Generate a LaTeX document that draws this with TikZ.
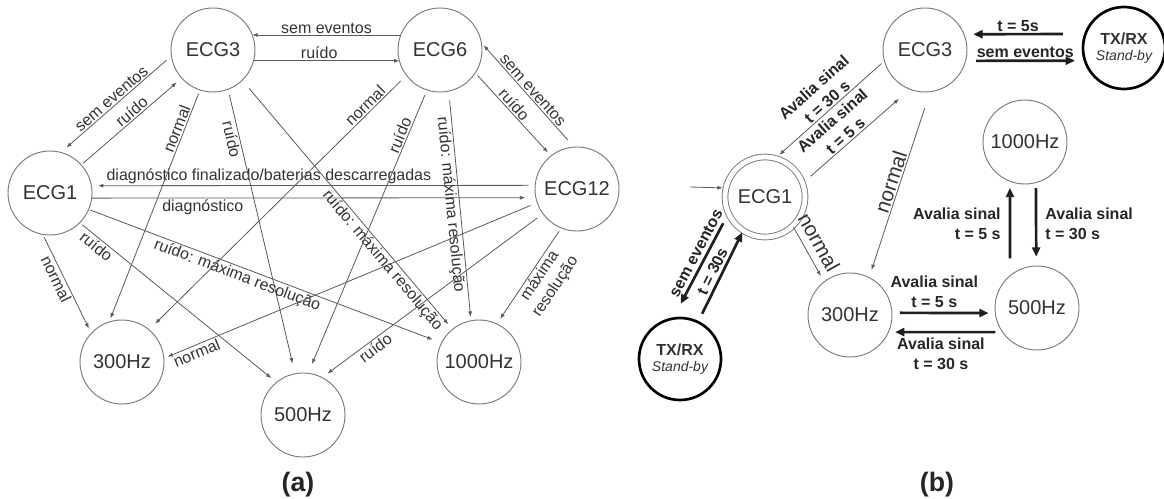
\documentclass[tikz,border=0pt]{standalone}
\usepackage{fontspec}
\setmainfont{Liberation Sans}
\usetikzlibrary{arrows.meta}
\definecolor{ink}{HTML}{333333}
\definecolor{wire}{HTML}{5A5A5A}
\definecolor{rim}{HTML}{7A7A7A}

\begin{document}
\begin{tikzpicture}[x=0.75pt,y=-0.75pt,
  state/.style={circle,draw=rim,line width=0.7pt,minimum size=63pt,inner sep=0pt,outer sep=0pt,
                text=ink,font=\fontsize{15}{17}\selectfont},
  startstate/.style={state,double=white,double distance=3.6pt,minimum size=60pt},
  standby/.style={circle,draw=black,line width=2pt,minimum size=61.5pt,inner sep=0pt,outer sep=0pt,
                  align=center,text=ink,font=\fontsize{12}{14}\selectfont},
  arc/.style={draw=wire,line width=0.6pt,-{Latex[length=4pt,width=3pt]}},
  heavy/.style={draw=black!88,line width=2pt,-{Triangle[length=7pt,width=6pt]}},
  lbl/.style={font=\fontsize{12}{14}\selectfont,text=ink,inner sep=1pt,sloped,align=center},
  bigl/.style={font=\fontsize{15.5}{17}\selectfont,text=ink,inner sep=1pt,sloped},
  blbl/.style={font=\bfseries\fontsize{12}{15}\selectfont,text=black!85,inner sep=1pt,align=center},
  caption/.style={font=\bfseries\fontsize{20}{24}\selectfont,text=black!85},
]
\fill[white] (0,0) rectangle (1164,499);
\useasboundingbox (0,0) rectangle (1164,499);

% ---------- (a): transitions between acquisition modes ----------
\node[state] (a3)  at (213,50)  {ECG3};
\node[state] (a6)  at (440,50)  {ECG6};
\node[state] (a1)  at (50,193)  {ECG1};
\node[state] (a12) at (577,189) {ECG12};
\node[state] (h3)  at (122,362) {300Hz};
\node[state] (h5)  at (303,415) {500Hz};
\node[state] (h10) at (479,362) {1000Hz};

\draw[arc] (a6.159) -- node[lbl,above] {sem eventos} (a3.21);
\draw[arc] (a3.-15) -- node[lbl,above,pos=.45] {ruído} (a6.195);
\draw[arc,shorten <=5pt,shorten >=5.5pt] (a3.188) -- node[lbl,above,pos=.5] {sem eventos} (a1.75);
\draw[arc,shorten <=2pt,shorten >=5pt] (a1.42) -- node[lbl,above,pos=.55] {ruído} (a3.222);
\draw[arc,shorten <=5pt,shorten >=5pt] (a12.175) -- node[lbl,above,pos=.6] {diagnóstico finalizado/baterias descarregadas} (a1.10);
\draw[arc,shorten >=8pt] (a1.-7) -- node[lbl,below,pos=.25] {diagnóstico} (a12.192);
\draw[arc,shorten <=7pt,shorten >=2.5pt] (a12.94) -- node[lbl,above,pos=.5] {sem eventos} (a6.10);
\draw[arc,shorten <=2.5pt,shorten >=3.5pt] (a6.-33) -- node[lbl,above,pos=.44] {ruído} (a12.128);

\draw[arc,shorten <=3pt,shorten >=3pt] (a3.-108) -- node[lbl,above,pos=.18] {normal} (h3.108);
\draw[arc,shorten <=4.5pt,shorten >=8pt] (a3.-69) -- node[lbl,below,pos=.17] {ruído} (h5.101);
\draw[arc,shorten <=8pt,shorten >=5pt] (a3.-46) -- node[lbl,below,pos=.7] {ruído: máxima resolução} (h10.129);

\draw[arc,shorten <=1pt,shorten >=7pt] (a1.-23) -- node[lbl,below,pos=.43] {ruído: máxima resolução} (h10.153);
\draw[arc,shorten <=2.5pt,shorten >=4pt] (a1.-100) -- node[lbl,below,pos=.42] {normal} (h3.137.6);
\draw[arc,shorten <=2.5pt,shorten >=5pt] (a1.-45) -- node[lbl,below,pos=.11] {ruído} (h5.129);

\draw[arc,shorten <=6pt,shorten >=6.5pt] (a6.-143) -- node[lbl,above,pos=.14] {normal} (h3.50);
\draw[arc,shorten <=4pt,shorten >=7.5pt] (a6.-108) -- node[lbl,above,pos=.17] {ruído} (h5.83);
\draw[arc,shorten <=7pt,shorten >=3pt] (a6.-78) -- node[lbl,below,pos=.49] {ruído: máxima resolução} (h10.101);

\draw[arc,shorten <=5.5pt,shorten >=3pt] (a12.199) -- node[lbl,below,pos=.92] {normal} (h3.5);
\draw[arc,shorten <=5.5pt,shorten >=5pt] (a12.-144) -- node[lbl,below,pos=.78] {ruído} (h5.63);
\draw[arc,shorten <=3pt,shorten >=4.5pt] (a12.-112) -- node[lbl,below,pos=.45] {máxima\\resolução} (h10.65.5);

\node[caption] (capa) at (298,485) {(a)};

% ---------- (b): timed evaluation cycle ----------
\node[state]      (b3) at (925,50)   {ECG3};
\node[standby]    (t1) at (1124,48)  {\textbf{TX/RX}\\[-2pt]{\itshape\fontsize{10.5}{12}\selectfont Stand-by}};
\node[startstate] (b1) at (765,197)  {ECG1};
\node[state]      (k1) at (1025,142) {1000Hz};
\node[state]      (k5) at (1037,308) {500Hz};
\node[state]      (k3) at (850,315)  {300Hz};
\node[standby]    (t2) at (680,359)  {\textbf{TX/RX}\\[-2pt]{\itshape\fontsize{10.5}{12}\selectfont Stand-by}};

\coordinate (entry) at (690,187);
\draw[arc,shorten >=2.5pt] (entry) -- (b1.167);

\draw[heavy,shorten <=17pt,shorten >=7pt] (t1.160) -- node[blbl,above,pos=.555] {t = 5s} (b3.22);
\draw[heavy,shorten <=8pt,shorten >=7.5pt] (b3.-15) -- node[blbl,above] {sem eventos} (t1.198);

\draw[arc,shorten <=3pt,shorten >=4pt] (b3.195) -- node[blbl,sloped,above,pos=.48] {Avalia sinal\\t = 30 s} (b1.75);
\draw[arc,shorten <=8pt,shorten >=11pt] (b1.20) -- node[blbl,sloped,above,pos=.445] {Avalia sinal\\t = 5 s} (b3.249);
\draw[arc,shorten <=13pt,shorten >=6pt] (b3.-83) -- node[bigl,above,pos=.5] {normal} (k3.63);
\draw[arc,shorten <=1pt,shorten >=5pt] (b1.-46) -- node[bigl,above=4pt,pos=.43] {normal} (k3.128);

\draw[heavy,shorten <=13pt,shorten >=5pt] (k5.130) -- node[blbl,left=5pt,align=right,pos=.55] {Avalia sinal\\t = 5 s} (k1.-111);
\draw[heavy,shorten <=4pt,shorten >=7pt] (k1.-75) -- node[blbl,right=5pt,align=left,pos=.5] {Avalia sinal\\t = 30 s} (k5.91);

\draw[heavy,shorten <=6pt,shorten >=5pt] (k3.3) -- node[blbl,above=2pt,pos=.41] {Avalia sinal\\t = 5 s} (k5.187);
\draw[heavy,shorten <=5.5pt,shorten >=5pt] (k5.215) -- node[blbl,below=2pt,pos=.54] {Avalia sinal\\t = 30 s} (k3.-24);

\draw[heavy,shorten <=8.5pt,shorten >=12.5pt] (b1.204) -- node[blbl,sloped,above=1.5pt,pos=.425] {sem eventos} (t2.100);
\draw[heavy,shorten <=7pt,shorten >=1.5pt] (t2.64) -- node[blbl,sloped,above=1pt,pos=.51] {t = 30s} (b1.237);

\node[caption] (capb) at (937,485) {(b)};
\end{tikzpicture}
\end{document}
